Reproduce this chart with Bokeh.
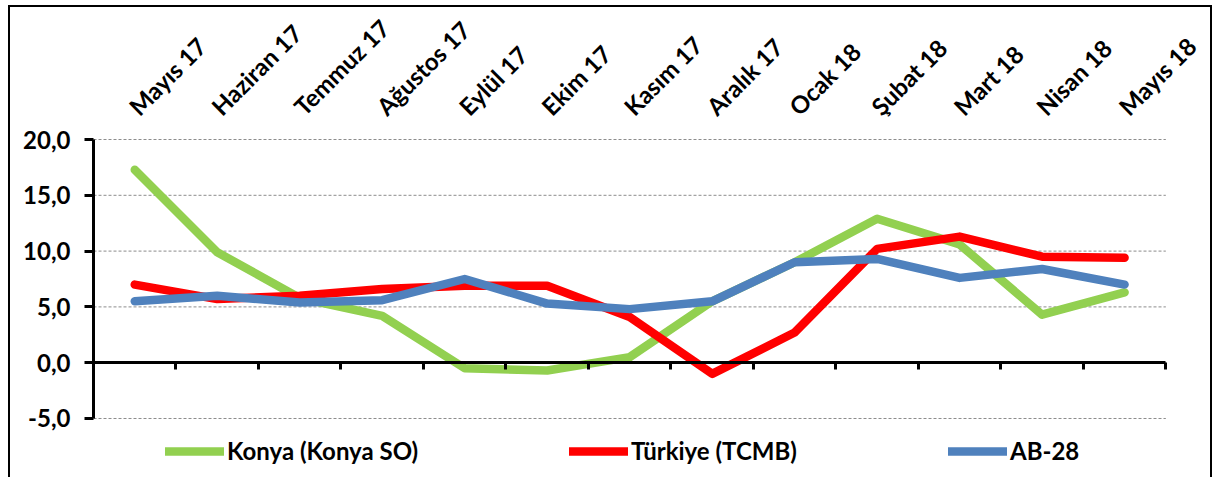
import math
from bokeh.plotting import figure
from bokeh.models import (ColumnDataSource, FixedTicker, LinearAxis, Legend, LegendItem,
                          LabelSet, Range1d)
from bokeh.core.properties import value
from bokeh.embed import file_html
from bokeh.resources import INLINE

months = ["Mayıs 17", "Haziran 17", "Temmuz 17", "Ağustos 17", "Eylül 17", "Ekim 17",
          "Kasım 17", "Aralık 17", "Ocak 18", "Şubat 18", "Mart 18", "Nisan 18", "Mayıs 18"]
konya = [17.3, 9.9, 5.8, 4.2, -0.5, -0.7, 0.5, 5.5, 9.0, 12.9, 10.6, 4.3, 6.3]
turkiye = [7.0, 5.7, 6.0, 6.6, 6.9, 6.9, 4.1, -1.0, 2.7, 10.2, 11.3, 9.5, 9.4]
ab28 = [5.5, 6.0, 5.4, 5.6, 7.5, 5.3, 4.8, 5.5, 9.0, 9.3, 7.6, 8.4, 7.0]
y_ticks = [-5, 0, 5, 10, 15, 20]
series_names = ["Konya (Konya SO)", "Türkiye (TCMB)", "AB-28"]
series_colors = ["#92D050", "#FF0000", "#4F81BD"]

FONT = "Lato"
FS = "24px"
n = len(months)
xs = [i + 0.5 for i in range(n)]

W, H = 1204, 472
p = figure(width=W, height=H, output_backend="svg", toolbar_location=None,
           x_range=Range1d(0, 13.59), y_range=Range1d(-9.75, 31.83),
           min_border_left=83, min_border_top=0, min_border_right=0, min_border_bottom=8,
           x_axis_location=None, y_axis_location=None)
p.styles = {"border": "2px solid black", "border-bottom": "none",
            "margin-left": "8px", "margin-top": "5px"}
p.outline_line_color = None
p.background_fill_color = "white"
p.border_fill_color = "white"
p.xgrid.grid_line_color = None
p.ygrid.grid_line_color = None

# dashed horizontal gridlines across the data area
p.segment(x0=[0] * len(y_ticks), x1=[n] * len(y_ticks), y0=y_ticks, y1=y_ticks,
          line_color="#8c8c8c", line_dash="3 2", line_width=1)

# y axis
yax = LinearAxis(ticker=FixedTicker(ticks=y_ticks), bounds=(min(y_ticks), max(y_ticks)))
yax.major_label_overrides = {t: f"{t:.1f}".replace(".", ",") for t in y_ticks}
yax.axis_line_width = 3
yax.axis_line_color = "black"
yax.major_tick_line_width = 3
yax.major_tick_in = 0
yax.major_tick_out = 9
yax.minor_tick_line_color = None
yax.major_label_standoff = 14
yax.major_label_text_font = FONT
yax.major_label_text_font_style = "bold"
yax.major_label_text_font_size = FS
yax.major_label_text_color = "black"
p.add_layout(yax, "left")

# x axis at zero
xax = LinearAxis(ticker=FixedTicker(ticks=list(range(1, n + 1))), bounds=(0, n))
xax.fixed_location = 0
xax.axis_line_width = 3
xax.axis_line_color = "black"
xax.major_tick_line_width = 3
xax.major_tick_in = 0
xax.major_tick_out = 7
xax.minor_tick_line_color = None
xax.major_label_standoff = 0
xax.major_label_text_font_size = "0px"
xax.major_label_text_color = None
p.add_layout(xax, "below")

renderers = []
for vals, col in zip([konya, turkiye, ab28], series_colors):
    r = p.line(xs, vals, line_color=col, line_width=8.5, line_join="round", line_cap="round")
    renderers.append(r)

# month labels at top
src = ColumnDataSource(dict(x=xs, y=[22.0] * n, t=months))
labels = LabelSet(x="x", y="y", text="t", source=src, angle=math.pi / 4,
                  text_font=value(FONT), text_font_style="bold", text_font_size=FS,
                  text_align="left", text_baseline="alphabetic", text_color="black", x_offset=5)
p.add_layout(labels)

# legends
leg_x = [72, 476, 855]
for name, r, lx in zip(series_names, renderers, leg_x):
    lg = Legend(items=[LegendItem(label=name, renderers=[r])], location=(lx, 6),
                orientation="horizontal", glyph_width=59, glyph_height=20, label_standoff=3,
                padding=0, margin=0, spacing=0, border_line_color=None,
                background_fill_alpha=0,
                label_text_font=FONT, label_text_font_style="bold",
                label_text_font_size=FS, label_text_color="black")
    p.add_layout(lg)

open("out.html", "w").write(file_html(p, INLINE))
